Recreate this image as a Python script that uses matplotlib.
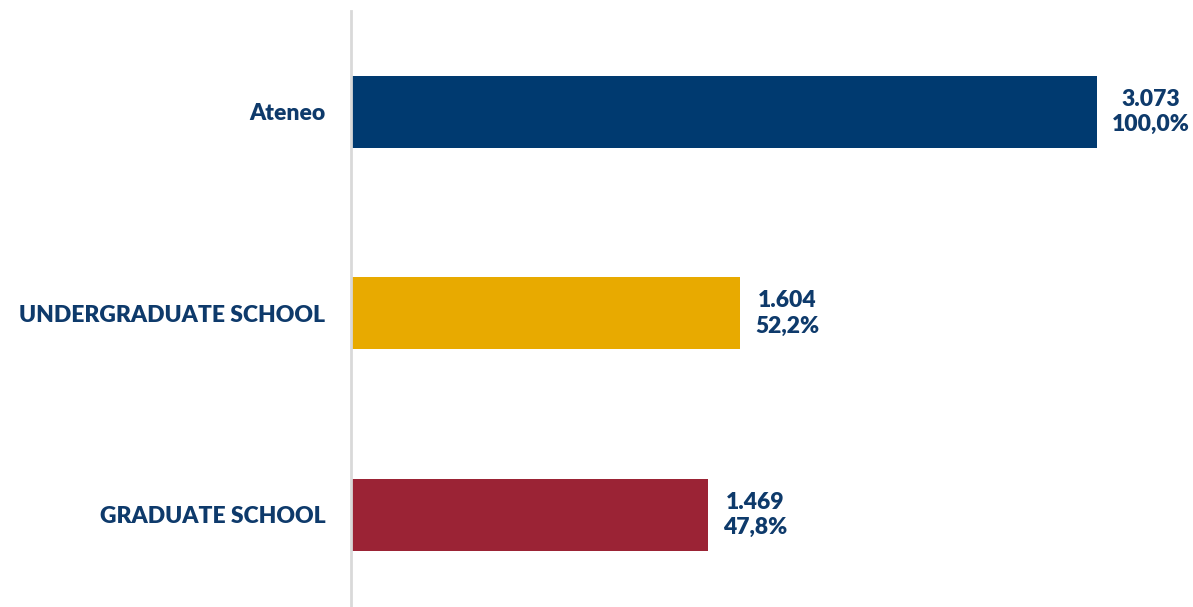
import matplotlib
matplotlib.use("Agg")
import matplotlib.pyplot as plt
from matplotlib import transforms

categories = ["Ateneo", "UNDERGRADUATE SCHOOL", "GRADUATE SCHOOL"]
values = [3073, 1604, 1469]
value_labels = ["3.073", "1.604", "1.469"]
pct_labels = ["100,0%", "52,2%", "47,8%"]
colors = ["#003A70", "#E8AA00", "#9B2335"]
text_color = "#0E3A6B"

plt.rcParams['font.family'] = ['Lato', 'DejaVu Sans']

W, H = 1193, 607
fig = plt.figure(figsize=(W / 100, H / 100), dpi=100)
ax = fig.add_axes([351 / W, 0, (W - 351) / W, (H - 11) / H])

ypos = list(range(len(categories)))
ax.barh(ypos, values, height=0.357, color=colors, left=0)
ax.set_xlim(0, (W - 351) / 0.2428)
ax.set_ylim(2.457, -0.501)

for s in ["top", "right", "bottom"]:
    ax.spines[s].set_visible(False)
ax.spines["left"].set_color("#D9D9D9")
ax.spines["left"].set_linewidth(2)
ax.set_xticks([])
ax.set_yticks(ypos)
ax.set_yticklabels(categories, fontsize=16.5, fontweight="heavy", color=text_color)
ax.tick_params(axis="y", length=0, pad=18.5)

off = transforms.offset_copy(ax.transData, fig=fig, x=15, y=0, units="dots")
for y, v, vl, pl in zip(ypos, values, value_labels, pct_labels):
    ax.text(v, y, vl + "\n" + pl, transform=off, ha="left", va="center",
            multialignment="center", fontsize=16.5, fontweight="heavy",
            color=text_color, linespacing=1.25)

fig.savefig("out.png", dpi=100)
